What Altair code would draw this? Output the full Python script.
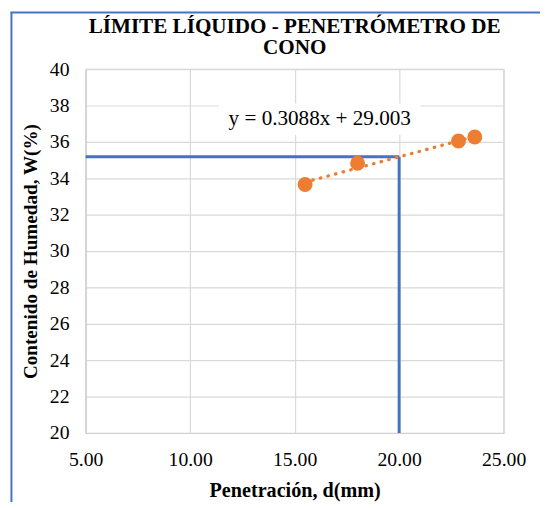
import altair as alt
import pandas as pd

# ---- data ----
pen = [15.50, 18.01, 22.84, 23.62]          # Penetración, d(mm)
hum = [33.66, 34.83, 36.05, 36.27]          # Contenido de humedad, W(%)
slope = [0.3088]
intercept = [29.003]
ll_pen = [20.0]                             # penetración de referencia (20 mm)
x_ticks = [5, 10, 15, 20, 25]
y_ticks = [20, 22, 24, 26, 28, 30, 32, 34, 36, 38, 40]
title_lines = ["LÍMITE LÍQUIDO - PENETRÓMETRO DE", "CONO"]
eq_label = ["y = 0.3088x + 29.003"]
eq_pos_x = [16.2]
eq_pos_y = [37.25]

W, H = 425, 370
FONT = "Liberation Serif"
ORANGE = "#ED7D31"
BLUE = "#4472C4"

pts = pd.DataFrame({"x": pen, "y": hum})
trend = pd.DataFrame({"x": [min(pen), max(pen)]})
trend["y"] = slope[0] * trend["x"] + intercept[0]
ll = slope[0] * ll_pen[0] + intercept[0]
guides = pd.DataFrame({
    "x": [x_ticks[0], ll_pen[0]],
    "x2": [ll_pen[0], ll_pen[0]],
    "y": [ll, y_ticks[0]],
    "y2": [ll, ll],
})
eq = pd.DataFrame({"x": eq_pos_x, "y": eq_pos_y, "t": eq_label})

xs = alt.Scale(domain=[x_ticks[0], x_ticks[-1]], nice=False, zero=False)
ys = alt.Scale(domain=[y_ticks[0], y_ticks[-1]], nice=False, zero=False)

xax = alt.Axis(values=x_ticks, format=".2f", title="Penetración, d(mm)",
               labelFont=FONT, labelFontSize=20, labelColor="black",
               labelPadding=17, titlePadding=12, labelFlush=False,
               labelOverlap=False, titleFontSize=20.5)
yax = alt.Axis(values=y_ticks, format="d", title="Contenido de Humedad, W(%)",
               labelFont=FONT, labelFontSize=20, labelColor="black",
               labelPadding=17, titlePadding=9, labelFlush=False,
               labelOverlap=False, titleFontSize=19.5)


def X(f="x"):
    return alt.X(f"{f}:Q", scale=xs, axis=xax)


def Y(f="y"):
    return alt.Y(f"{f}:Q", scale=ys, axis=yax)


base_pts = alt.Chart(pts).mark_circle(size=230, color=ORANGE, opacity=1).encode(
    x=X(), y=Y()
)

trend_line = alt.Chart(trend).mark_line(
    color=ORANGE, strokeWidth=3.4, strokeDash=[0.5, 7.5], strokeCap="round"
).encode(x=X(), y=Y())

guide_rules = alt.Chart(guides).mark_rule(color=BLUE, strokeWidth=3).encode(
    x=X(), x2="x2:Q", y=Y(), y2="y2:Q",
)

eq_box = alt.Chart(eq).mark_rect(width=205, height=32, color="white").encode(
    x=X(), y=Y()
)
eq_text = alt.Chart(eq).mark_text(font=FONT, fontSize=21.5, color="black").encode(
    x=X(), y=Y(), text="t:N"
)

border_v = alt.Chart(eq).mark_rule(color=BLUE, strokeWidth=2).encode(
    x=alt.value(-75.5), y=alt.value(-57.5), y2=alt.value(H + 80)
)
border_h = alt.Chart(eq).mark_rule(color=BLUE, strokeWidth=2).encode(
    x=alt.value(-76.5), x2=alt.value(W + 60), y=alt.value(-57.5)
)

chart = alt.layer(
    guide_rules, trend_line, eq_box, eq_text, base_pts, border_v, border_h
).properties(
    width=W, height=H,
    title=alt.TitleParams(text=title_lines, font=FONT, fontSize=21.5, fontWeight="bold",
                          color="black", anchor="middle", lineHeight=22, offset=0,
                          dy=48, frame="group"),
    autosize=alt.AutoSizeParams(type="none"),
    padding={"left": 79, "top": 58, "right": 37, "bottom": 66},
).configure_axis(
    labelFont=FONT, labelFontSize=20, labelColor="black",
    titleFont=FONT, titleFontWeight="bold", titleColor="black",
    grid=True, gridColor="#D9D9D9", gridWidth=1.2,
    domainColor="#D0D0D0", domainWidth=1.2, ticks=False,
).configure_view(stroke="#D0D0D0", strokeWidth=1.2)

chart.save("out.html", embed_options={"renderer": "svg", "actions": False})
